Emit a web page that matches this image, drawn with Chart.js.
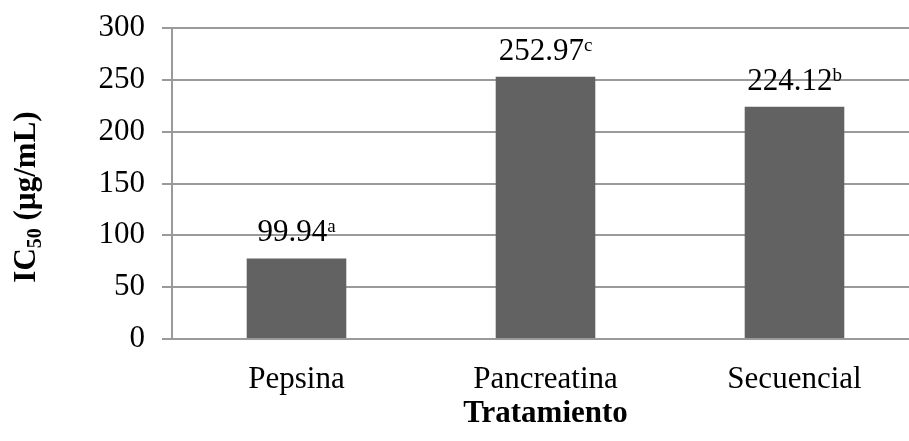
<!DOCTYPE html>
<html>
<head>
<meta charset="utf-8">
<script src="https://cdn.jsdelivr.net/npm/chart.js@4.4.0/dist/chart.umd.min.js"></script>
<style>
  html, body { margin: 0; padding: 0; background: #fff; overflow: hidden; }
  #wrap { width: 920px; height: 441px; position: relative; }
</style>
</head>
<body>
<div id="wrap"><canvas id="ic50Chart"></canvas></div>
<script>
// data
const categories = ['Pepsina', 'Pancreatina', 'Secuencial'];
const barValues = [77.7, 252.9, 224.0];
const labelValues = ['99.94', '252.97', '224.12'];
const labelLetters = ['a', 'c', 'b'];
const yTicks = [0, 50, 100, 150, 200, 250, 300];

const FONT = '"Liberation Serif", "Times New Roman", serif';

// value labels with superscript letters above each bar
const barLabels = {
    id: 'barLabels',
    afterDatasetsDraw(chart) {
        const ctx = chart.ctx;
        const meta = chart.getDatasetMeta(0);
        ctx.save();
        ctx.fillStyle = '#000';
        ctx.textBaseline = 'alphabetic';
        ctx.textAlign = 'left';
        meta.data.forEach((bar, i) => {
            ctx.font = '31px ' + FONT;
            const main = labelValues[i];
            const mw = ctx.measureText(main).width;
            ctx.font = '19px ' + FONT;
            const sw = ctx.measureText(labelLetters[i]).width;
            const x0 = bar.x - (mw + sw) / 2;
            const y0 = bar.y - 17;
            ctx.font = '31px ' + FONT;
            ctx.fillText(main, x0, y0);
            ctx.font = '19px ' + FONT;
            ctx.fillText(labelLetters[i], x0 + mw, y0 - 9);
        });
        ctx.restore();
    }
};

// rotated y title with subscript
const yTitle = {
    id: 'yTitle',
    afterDraw(chart) {
        const ctx = chart.ctx;
        const parts = [
            { t: 'IC', size: 31, dy: 0 },
            { t: '50', size: 20, dy: 6 },
            { t: ' (µg/mL)', size: 31, dy: 0 }
        ];
        ctx.save();
        let total = 0;
        parts.forEach(p => {
            ctx.font = 'bold ' + p.size + 'px ' + FONT;
            p.w = ctx.measureText(p.t).width;
            total += p.w;
        });
        ctx.translate(35, 197);
        ctx.rotate(-Math.PI / 2);
        ctx.fillStyle = '#000';
        ctx.textBaseline = 'alphabetic';
        let x = -total / 2;
        parts.forEach(p => {
            ctx.font = 'bold ' + p.size + 'px ' + FONT;
            ctx.fillText(p.t, x, p.dy);
            x += p.w;
        });
        ctx.restore();
    }
};

const ctx = document.getElementById('ic50Chart').getContext('2d');
new Chart(ctx, {
    type: 'bar',
    data: {
        labels: categories,
        datasets: [{
            data: barValues,
            backgroundColor: '#626262',
            borderWidth: 0,
            barPercentage: 0.4,
            categoryPercentage: 1.0
        }]
    },
    options: {
        responsive: true,
        maintainAspectRatio: false,
        animation: false,
        layout: { padding: { top: 28, left: 0, right: 1, bottom: 0 } },
        plugins: {
            legend: { display: false },
            tooltip: { enabled: false }
        },
        scales: {
            x: {
                grid: { display: false },
                border: { display: true, color: '#9a9a9a', width: 2 },
                ticks: {
                    color: '#000',
                    padding: 14,
                    font: { family: FONT, size: 31 }
                },
                title: {
                    display: true,
                    text: 'Tratamiento',
                    color: '#000',
                    font: { family: FONT, size: 31, weight: 'bold' },
                    padding: { top: 0, bottom: 8 }
                },
                afterFit(scale) { scale.height = 102; }
            },
            y: {
                min: 0,
                max: 300,
                afterBuildTicks(scale) {
                    scale.ticks = yTicks.map(v => ({ value: v }));
                },
                grid: {
                    color: '#9a9a9a',
                    lineWidth: 2,
                    tickLength: 10,
                    drawTicks: true
                },
                border: { display: true, color: '#9a9a9a', width: 2 },
                ticks: {
                    color: '#000',
                    padding: 17,
                    font: { family: FONT, size: 31 }
                },
                afterFit(scale) {
                    scale.width = 172;
                    scale.paddingTop = 0;
                    scale.paddingBottom = 0;
                }
            }
        }
    },
    plugins: [barLabels, yTitle]
});
</script>
</body>
</html>
